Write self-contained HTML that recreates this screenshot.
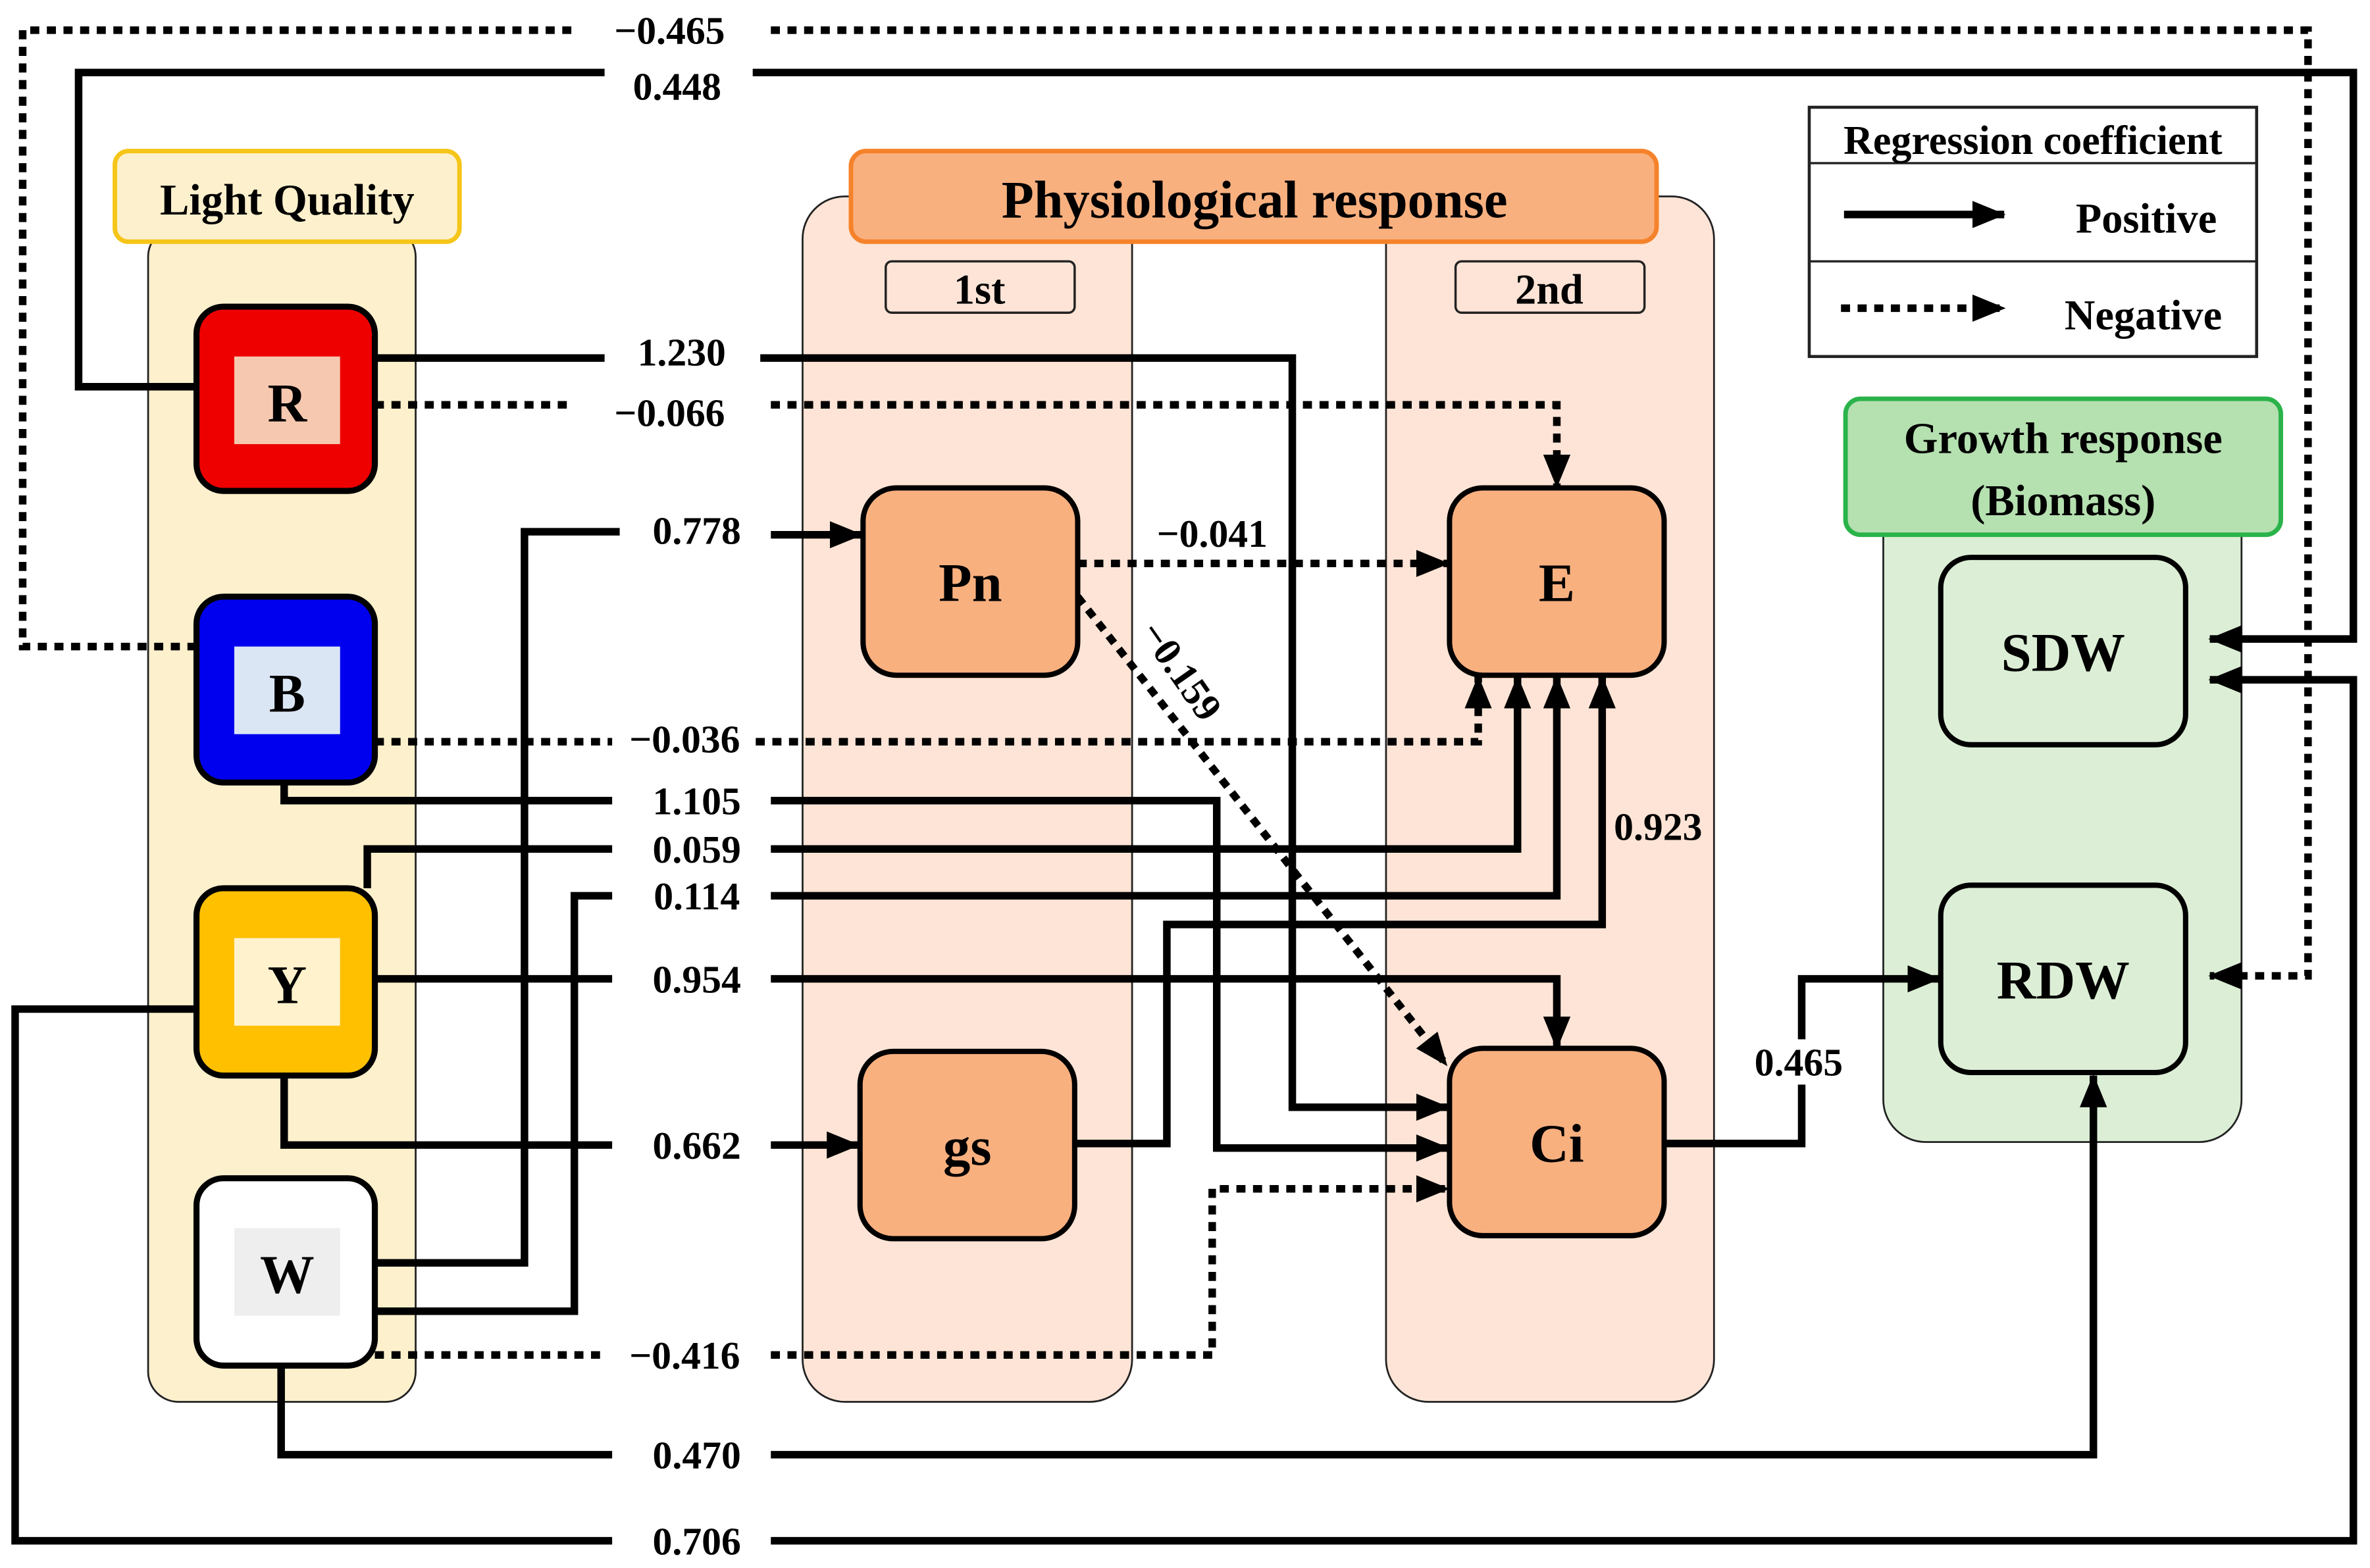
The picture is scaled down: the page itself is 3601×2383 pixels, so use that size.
<!DOCTYPE html>
<html><head><meta charset="utf-8"><style>
html,body{margin:0;padding:0;background:#fff;}
svg{display:block;}
text{font-family:"Liberation Serif",serif;font-weight:bold;fill:#000;}
</style></head><body>
<svg width="3601" height="2383" viewBox="0 0 1568 1038" preserveAspectRatio="none" xmlns="http://www.w3.org/2000/svg">
<defs>
<marker id="a" markerWidth="22" markerHeight="18" refX="21" refY="9" orient="auto" markerUnits="userSpaceOnUse">
<path d="M0,0 L22,9 L0,18 z" fill="#000"/></marker>
</defs>
<rect width="1568" height="1038" fill="#fff"/>
<!-- columns -->
<rect x="98" y="150" width="177" height="778" rx="20" fill="#fdf0cc" stroke="#222" stroke-width="1.2"/>
<rect x="76" y="100" width="228" height="60" rx="9" fill="#fdf0cc" stroke="#f5c518" stroke-width="3"/>
<text x="190" y="142" font-size="29" text-anchor="middle">Light Quality</text>
<rect x="531" y="130" width="218" height="798" rx="28" fill="#fde4d6" stroke="#222" stroke-width="1.2"/>
<rect x="917" y="130" width="217" height="798" rx="28" fill="#fde4d6" stroke="#222" stroke-width="1.2"/>
<rect x="563" y="100" width="533" height="60" rx="10" fill="#f9b07f" stroke="#f5822a" stroke-width="3"/>
<text x="830" y="144" font-size="35" text-anchor="middle">Physiological response</text>
<rect x="586" y="173" width="125" height="34" rx="4" fill="#fde4d6" stroke="#222" stroke-width="1.5"/>
<text x="648" y="201" font-size="28" text-anchor="middle">1st</text>
<rect x="963" y="173" width="125" height="34" rx="4" fill="#fde4d6" stroke="#222" stroke-width="1.5"/>
<text x="1025" y="201" font-size="28" text-anchor="middle">2nd</text>
<rect x="1246" y="300" width="237" height="456" rx="28" fill="#dcefd6" stroke="#222" stroke-width="1.2"/>
<rect x="1221" y="264" width="288" height="90" rx="10" fill="#b5e0b0" stroke="#2ab34a" stroke-width="3"/>
<text x="1365" y="300" font-size="29" text-anchor="middle">Growth response</text>
<text x="1365" y="341" font-size="29" text-anchor="middle">(Biomass)</text>
<!-- legend -->
<rect x="1197" y="71" width="296" height="165" fill="#fff" stroke="#222" stroke-width="2"/>
<line x1="1197" y1="108" x2="1493" y2="108" stroke="#222" stroke-width="1.5"/>
<line x1="1197" y1="173" x2="1493" y2="173" stroke="#222" stroke-width="1.5"/>
<text x="1345" y="102" font-size="27" text-anchor="middle">Regression coefficient</text>
<line x1="1220" y1="142" x2="1326" y2="142" stroke="#000" stroke-width="5" marker-end="url(#a)"/>
<text x="1420" y="154" font-size="28" text-anchor="middle">Positive</text>
<line x1="1218" y1="204" x2="1326" y2="204" stroke="#000" stroke-width="5" stroke-dasharray="6,5" marker-end="url(#a)"/>
<text x="1418" y="218" font-size="28" text-anchor="middle">Negative</text>

<!-- connectors -->
<g fill="none" stroke="#000" stroke-width="5">
<g stroke-dasharray="6,5">
<polyline points="130,428 15,428 15,20 380,20"/>
<polyline points="510,20 1527,20 1527,646 1462,646" marker-end="url(#a)"/>
<polyline points="248,268 380,268"/>
<polyline points="510,268 1030,268 1030,322" marker-end="url(#a)"/>
<polyline points="713,373 958,373" marker-end="url(#a)"/>
<polyline points="713,395 957,705" marker-end="url(#a)"/>
<polyline points="248,491 405,491"/>
<polyline points="500,491 978,491 978,448" marker-end="url(#a)"/>
<polyline points="248,897 400,897"/>
<polyline points="510,897 802,897 802,787 958,787" marker-end="url(#a)"/>
</g>
<polyline points="130,256 52,256 52,48 400,48"/>
<polyline points="498,48 1557,48 1557,423 1462,423" marker-end="url(#a)"/>
<polyline points="248,237 400,237"/>
<polyline points="503,237 855,237 855,733 958,733" marker-end="url(#a)"/>
<polyline points="248,836 347,836 347,352 410,352"/>
<polyline points="510,354 570,354" marker-end="url(#a)"/>
<polyline points="188,518 188,530 405,530"/>
<polyline points="510,530 805,530 805,760 958,760" marker-end="url(#a)"/>
<polyline points="243,588 243,562 405,562"/>
<polyline points="510,562 1004,562 1004,448" marker-end="url(#a)"/>
<polyline points="248,868 380,868 380,593 405,593"/>
<polyline points="510,593 1030,593 1030,448" marker-end="url(#a)"/>
<polyline points="711,757 772,757 772,612 1060,612 1060,448" marker-end="url(#a)"/>
<polyline points="248,648 405,648"/>
<polyline points="510,648 1030,648 1030,694" marker-end="url(#a)"/>
<polyline points="188,712 188,758 405,758"/>
<polyline points="510,758 568,758" marker-end="url(#a)"/>
<polyline points="1101,757 1192,757 1192,648 1283,648" marker-end="url(#a)"/>
<polyline points="186,904 186,963 405,963"/>
<polyline points="510,963 1385,963 1385,712" marker-end="url(#a)"/>
<polyline points="130,668 10,668 10,1020 405,1020"/>
<polyline points="510,1020 1557,1020 1557,450 1462,450" marker-end="url(#a)"/>
</g>

<rect x="1156" y="688" width="70" height="30" fill="#fff"/>
<!-- labels -->
<g font-size="26" text-anchor="middle">
<text x="443" y="29">−0.465</text>
<text x="448" y="66">0.448</text>
<text x="451" y="242">1.230</text>
<text x="443" y="282">−0.066</text>
<text x="461" y="360">0.778</text>
<text x="802" y="362">−0.041</text>
<text x="453" y="498">−0.036</text>
<text x="461" y="539">1.105</text>
<text x="461" y="571">0.059</text>
<text x="461" y="602">0.114</text>
<text x="1097" y="556">0.923</text>
<text x="461" y="657">0.954</text>
<text x="461" y="767">0.662</text>
<text x="1190" y="712">0.465</text>
<text x="453" y="906">−0.416</text>
<text x="461" y="972">0.470</text>
<text x="461" y="1029">0.706</text>
<text x="780" y="452" transform="rotate(55 780 445)">−0.159</text>
</g>

<!-- light nodes -->
<rect x="130" y="203" width="118" height="122" rx="18" fill="#ee0000" stroke="#000" stroke-width="4"/>
<rect x="155" y="236" width="70" height="58" fill="#f7c8b0"/>
<text x="190" y="279" font-size="36" text-anchor="middle">R</text>
<rect x="130" y="395" width="118" height="123" rx="18" fill="#0000ee" stroke="#000" stroke-width="4"/>
<rect x="155" y="428" width="70" height="58" fill="#dbe6f5"/>
<text x="190" y="471" font-size="36" text-anchor="middle">B</text>
<rect x="130" y="588" width="118" height="124" rx="18" fill="#ffc000" stroke="#000" stroke-width="4"/>
<rect x="155" y="621" width="70" height="58" fill="#fff2cc"/>
<text x="190" y="664" font-size="36" text-anchor="middle">Y</text>
<rect x="130" y="780" width="118" height="124" rx="18" fill="#fff" stroke="#000" stroke-width="4"/>
<rect x="155" y="813" width="70" height="58" fill="#eeeeee"/>
<text x="190" y="856" font-size="36" text-anchor="middle">W</text>

<!-- physio nodes -->
<g stroke="#000" stroke-width="3.5" fill="#f9b07f">
<rect x="571" y="323" width="142" height="124" rx="22"/>
<rect x="959" y="323" width="142" height="124" rx="22"/>
<rect x="569" y="696" width="142" height="124" rx="22"/>
<rect x="959" y="694" width="142" height="124" rx="22"/>
</g>
<g font-size="36" text-anchor="middle">
<text x="642" y="398">Pn</text>
<text x="1030" y="398">E</text>
<text x="640" y="771">gs</text>
<text x="1030" y="769">Ci</text>
</g>
<g stroke="#000" stroke-width="3.5" fill="#dcefd6">
<rect x="1284" y="369" width="162" height="124" rx="20"/>
<rect x="1284" y="586" width="162" height="124" rx="20"/>
</g>
<g font-size="36" text-anchor="middle">
<text x="1365" y="444">SDW</text>
<text x="1365" y="661">RDW</text>
</g>
</svg>
</body></html>
